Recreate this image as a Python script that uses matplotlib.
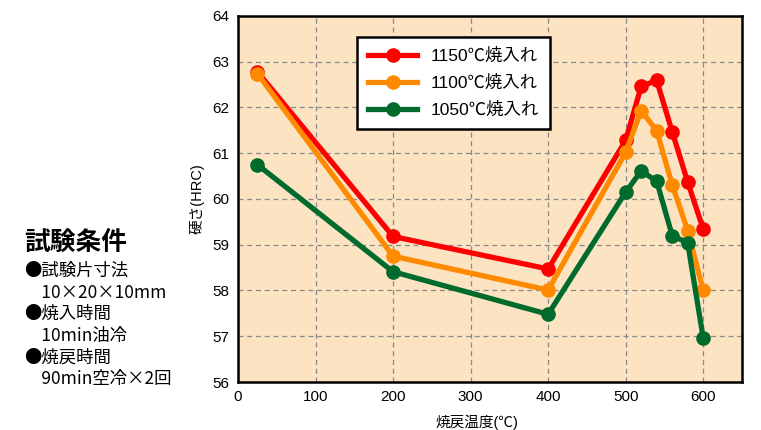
import matplotlib
matplotlib.use('Agg')
import matplotlib.pyplot as plt

plt.rcParams['font.family'] = ['Liberation Sans', 'Noto Sans CJK JP', 'DejaVu Sans']

temps = [25, 200, 400, 500, 520, 540, 560, 580, 600]
hrc_1150 = [62.78, 59.18, 58.47, 61.28, 62.46, 62.59, 61.47, 60.37, 59.34]
hrc_1100 = [62.74, 58.75, 58.01, 61.02, 61.93, 61.49, 60.31, 59.31, 58.0]
hrc_1050 = [60.75, 58.41, 57.48, 60.15, 60.61, 60.39, 59.2, 59.04, 56.96]
labels = ['1150℃焼入れ', '1100℃焼入れ', '1050℃焼入れ']
colors = ['#ff0000', '#ff8a00', '#006b2d']

conditions = ['●試験片寸法', '　10×20×10mm', '●焼入時間', '　10min油冷',
              '●焼戻時間', '　90min空冷×2回']

fig = plt.figure(figsize=(7.61, 4.30), dpi=100)
ax = fig.add_axes([0.3127, 0.1116, 0.6623, 0.8514])
ax.set_facecolor('#fce3c2')

for ys, lab, c in zip([hrc_1150, hrc_1100, hrc_1050], labels, colors):
    ax.plot(temps, ys, color=c, lw=3.8, marker='o', ms=9.5, label=lab,
            solid_joinstyle='round')

ax.set_xlim(0, 650)
ax.set_ylim(56, 64)
ax.set_xticks(range(0, 700, 100))
ax.set_yticks(range(56, 65))
ax.tick_params(length=0, labelsize=11, pad=6)
ax.grid(True, color='#8a8a8a', ls=(0, (4, 3)), lw=0.9)
for s in ax.spines.values():
    s.set_linewidth(1.8)
    s.set_color('black')

ax.set_xlabel('焼戻温度(℃)', fontsize=10.5)
ax.xaxis.set_label_coords(0.475, -0.09)
ax.set_ylabel('硬さ(HRC)', fontsize=10.5, labelpad=6)

leg = ax.legend(loc='upper left', bbox_to_anchor=(0.236, 0.943), fontsize=12.5,
                frameon=True, fancybox=False, edgecolor='black',
                borderpad=0.65, labelspacing=0.62, handlelength=2.8,
                handletextpad=0.8, borderaxespad=0)
leg.get_frame().set_linewidth(1.8)
leg.get_frame().set_facecolor('white')
leg.get_frame().set_alpha(1)

cjk = ['Noto Sans CJK JP', 'DejaVu Sans']
fig.text(0.032, 0.433, '試験条件', fontsize=18.5, fontweight='bold',
         va='center', family=cjk)
for i, line in enumerate(conditions):
    fig.text(0.032, 0.370 - i * 0.0505, line, fontsize=12.5, va='center',
             family=cjk)

fig.savefig('out.png', dpi=100)
